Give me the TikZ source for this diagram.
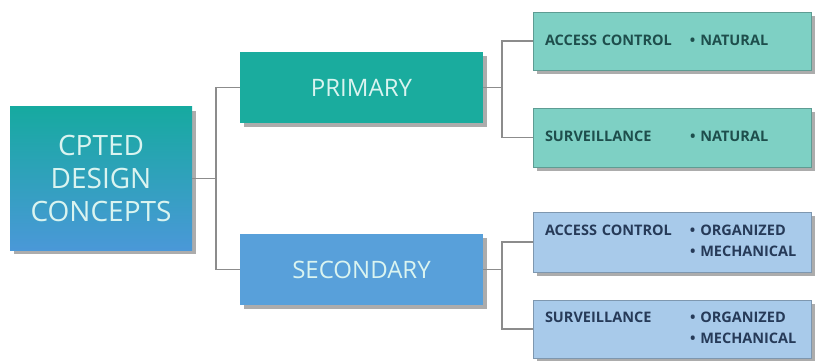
\documentclass[tikz,border=0pt]{standalone}
\usepackage{fontspec}
\setmainfont{Open Sans}
\usetikzlibrary{shadows}

\definecolor{tealdark}{RGB}{26,172,158}
\definecolor{bluedark}{RGB}{88,160,218}
\definecolor{tealtop}{RGB}{22,170,160}
\definecolor{bluebottom}{RGB}{74,152,216}
\definecolor{teallight}{RGB}{126,208,196}
\definecolor{bluelight}{RGB}{168,202,234}
\definecolor{lighttext}{RGB}{218,244,240}
\definecolor{tealtext}{RGB}{30,78,76}
\definecolor{bluetext}{RGB}{38,58,88}
\definecolor{linegray}{RGB}{140,140,140}

\newcommand{\pair}[2]{\begin{tabular}{@{}p{145pt}@{}l@{}}#1 & #2\end{tabular}}

\begin{document}
\begin{tikzpicture}[x=1pt, y=-1pt,
      shade/.style={drop shadow={shadow xshift=4pt, shadow yshift=-4pt, fill=gray!65, opacity=1}},
      topbox/.style={shade, minimum width=182pt, minimum height=143pt, inner sep=0pt,
        top color=tealtop, bottom color=bluebottom, text=lighttext, align=center,
        font=\fontsize{28}{33}\selectfont},
      midbox/.style={shade, minimum width=243pt, minimum height=71pt, inner sep=0pt,
        text=lighttext, font=\fontsize{24}{28}\selectfont},
      leafbox/.style={shade, minimum width=278pt, minimum height=58pt, inner xsep=12pt,
        inner ysep=0pt, text width=254pt, font=\fontsize{14.5}{21}\selectfont\bfseries},
      link/.style={draw=linegray, line width=1.4pt}]

    \useasboundingbox (0,0) rectangle (815,361);

    \node[topbox] (cpted) at (101,178.5) {CPTED\\DESIGN\\CONCEPTS};

    \node[midbox, fill=tealdark] (primary)   at (361.5,87.5)  {PRIMARY};
    \node[midbox, fill=bluedark] (secondary) at (361.5,269.5) {SECONDARY};

    \node[leafbox, fill=teallight, draw=teallight!75!black, text=tealtext] (acc1) at (672,41)
      {\pair{ACCESS CONTROL}{\textbullet\ NATURAL}};
    \node[leafbox, fill=teallight, draw=teallight!75!black, text=tealtext, minimum height=59pt] (surv1) at (672,137.5)
      {\pair{SURVEILLANCE}{\textbullet\ NATURAL}};
    \node[leafbox, fill=bluelight, draw=bluelight!75!black, text=bluetext, minimum height=60pt] (acc2) at (672,242)
      {\pair{ACCESS CONTROL}{\textbullet\ ORGANIZED\\ & \textbullet\ MECHANICAL}};
    \node[leafbox, fill=bluelight, draw=bluelight!75!black, text=bluetext] (surv2) at (672,329)
      {\pair{SURVEILLANCE}{\textbullet\ ORGANIZED\\ & \textbullet\ MECHANICAL}};

    % junctions
    \coordinate (j0) at (216,178.5);
    \coordinate (j1) at (502,87.5);
    \coordinate (j2) at (502,269.5);

    \draw[link] (cpted.east) -- (j0);
    \draw[link] (j0) |- (primary.west);
    \draw[link] (j0) |- (secondary.west);
    \draw[link] (primary.east) -- (j1);
    \draw[link] (j1) |- (acc1.west);
    \draw[link] (j1) |- (surv1.west);
    \draw[link] (secondary.east) -- (j2);
    \draw[link] (j2) |- (acc2.west);
    \draw[link] (j2) |- (surv2.west);
  \end{tikzpicture}
\end{document}
